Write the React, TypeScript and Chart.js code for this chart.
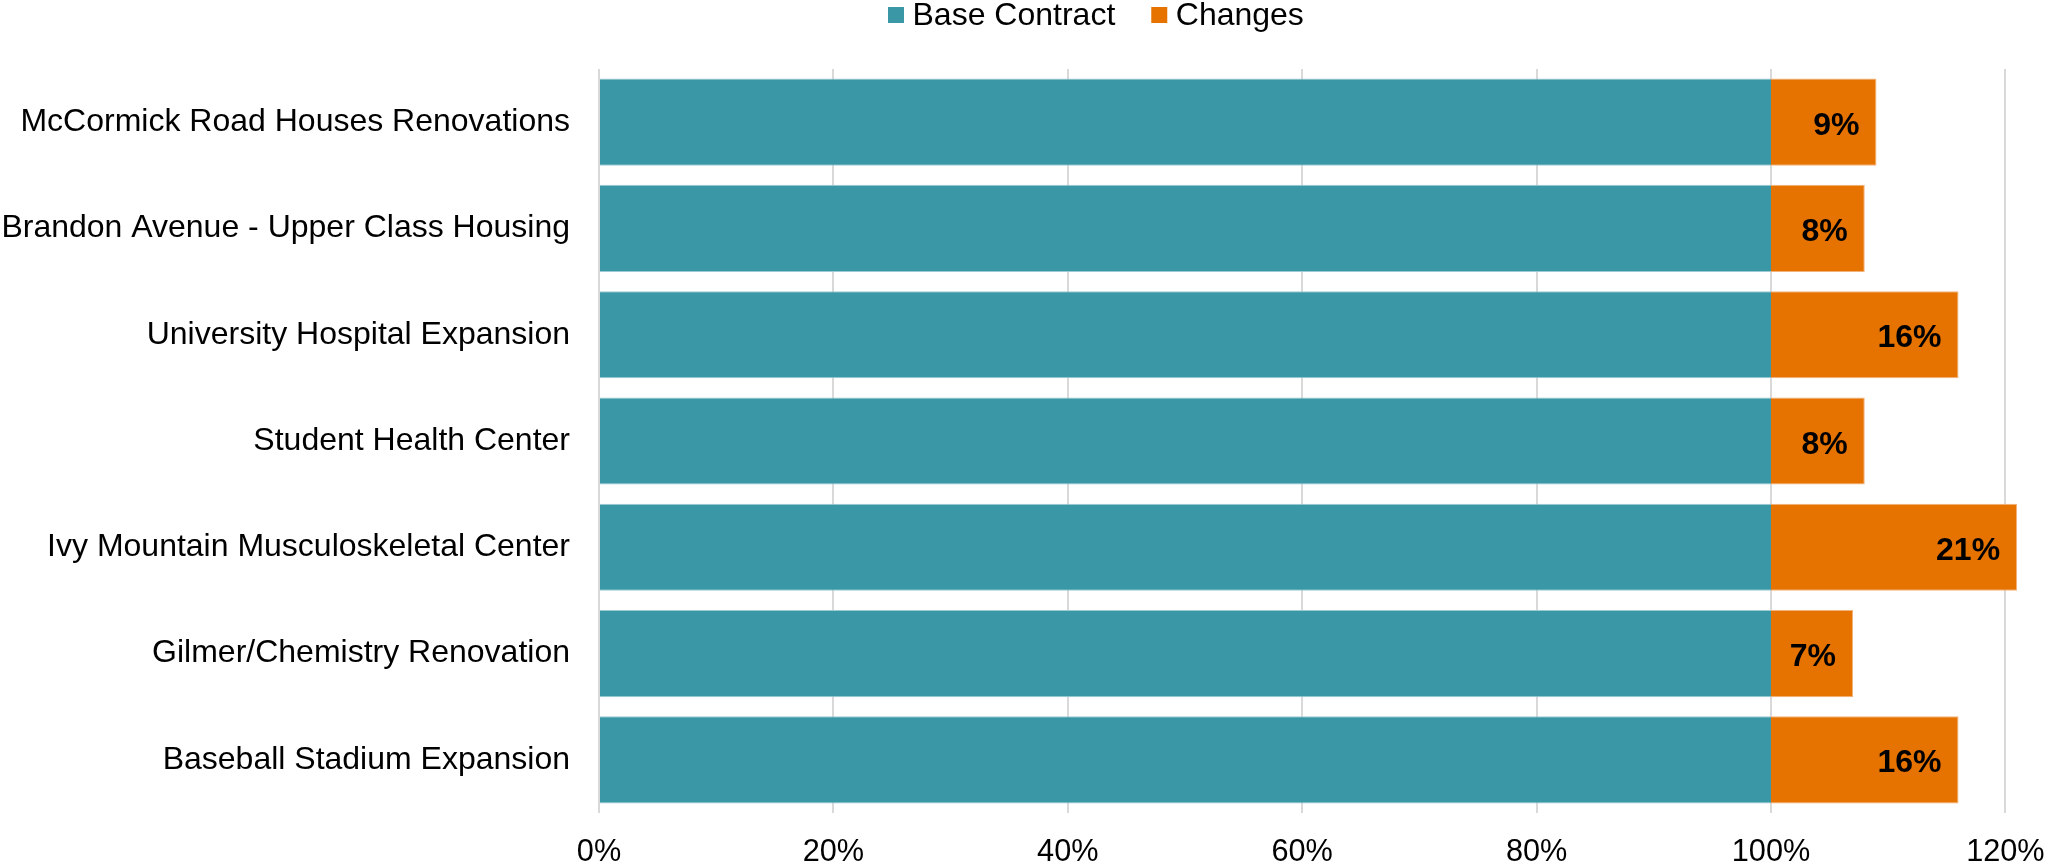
import React, { useEffect, useRef } from "react";
import { Chart, registerables } from "chart.js";

Chart.register(...registerables);

const categories = [
  "McCormick Road Houses Renovations",
  "Brandon Avenue - Upper Class Housing",
  "University Hospital Expansion",
  "Student Health Center",
  "Ivy Mountain Musculoskeletal Center",
  "Gilmer/Chemistry Renovation",
  "Baseball Stadium Expansion",
];
const baseContract = [100, 100, 100, 100, 100, 100, 100];
const changes = [9, 8, 16, 8, 21, 7, 16];
const xTicks = [0, 20, 40, 60, 80, 100, 120];
const seriesNames = ["Base Contract", "Changes"];

const TEAL = "#3a97a6";
const ORANGE = "#e67300";
const FONT = '"Liberation Sans", Arial, Helvetica, sans-serif';

const dataLabelPlugin = {
  id: "dataLabels",
  afterDatasetsDraw(chart: any) {
    const ctx = chart.ctx;
    const meta = chart.getDatasetMeta(1);
    ctx.save();
    ctx.font = `bold 32px ${FONT}`;
    ctx.fillStyle = "#000";
    ctx.textAlign = "right";
    ctx.textBaseline = "alphabetic";
    meta.data.forEach((bar: any, i: number) => {
      ctx.fillText(`${changes[i]}%`, bar.x - 17, bar.y + 12.5);
    });
    ctx.restore();
  },
};

const legendPlugin = {
  id: "customLegend",
  afterDraw(chart: any) {
    const ctx = chart.ctx;
    ctx.save();
    ctx.font = `32px ${FONT}`;
    ctx.textAlign = "left";
    ctx.textBaseline = "alphabetic";
    let x = 888;
    const colors = [TEAL, ORANGE];
    seriesNames.forEach((name, i) => {
      ctx.fillStyle = colors[i];
      ctx.fillRect(x, 7, 16, 16);
      ctx.fillStyle = "#000";
      ctx.fillText(name, x + 24.5, 25);
      x += 24.5 + ctx.measureText(name).width + 36;
    });
    ctx.restore();
  },
};

export default function App() {
  const ref = useRef<HTMLCanvasElement>(null);
  useEffect(() => {
    if (!ref.current) return;
    const chart = new Chart(ref.current, {
      type: "bar",
      data: {
        labels: categories,
        datasets: [
          {
            label: seriesNames[0],
            data: baseContract,
            backgroundColor: TEAL,
            borderColor: "#9ccbd3",
            borderWidth: { top: 1, bottom: 1, left: 0, right: 0 },
            borderSkipped: false,
            categoryPercentage: 1,
            barPercentage: 0.82,
            clip: false,
          },
          {
            label: seriesNames[1],
            data: changes,
            backgroundColor: ORANGE,
            borderColor: "#f2b27a",
            borderWidth: { top: 1, bottom: 1, left: 0, right: 1 },
            borderSkipped: false,
            categoryPercentage: 1,
            barPercentage: 0.82,
            clip: false,
          },
        ],
      },
      options: {
        indexAxis: "y",
        animation: false,
        responsive: true,
        maintainAspectRatio: false,
        layout: { padding: { top: 69, right: 43.6, left: 0, bottom: 0 } },
        plugins: {
          legend: { display: false },
          tooltip: { enabled: false },
        },
        scales: {
          x: {
            stacked: true,
            min: 0,
            max: 120,
            afterBuildTicks(scale: any) {
              scale.ticks = xTicks.map((v) => ({ value: v }));
            },
            afterFit(scale: any) {
              scale.height = 55;
              scale.paddingRight = 0;
              scale.paddingLeft = 0;
            },
            ticks: {
              callback: (v: any) => `${v}%`,
              color: "#000",
              font: { family: FONT, size: 30.7 },
              padding: 21,
              maxRotation: 0,
            },
            grid: { color: "#d9d9d9", lineWidth: 2, drawTicks: false },
            border: { display: false },
          },
          y: {
            stacked: true,
            afterFit(scale: any) {
              scale.width = 599;
              scale.paddingTop = 0;
              scale.paddingBottom = 0;
            },
            ticks: {
              color: "#000",
              font: { family: FONT, size: 32 },
              padding: 29,
            },
            grid: { display: false, drawTicks: false },
            border: { display: false },
          },
        },
      },
      plugins: [dataLabelPlugin, legendPlugin],
    });
    return () => chart.destroy();
  }, []);
  return (
    <div style={{ position: "fixed", left: 0, top: 0, width: 2049, height: 868, background: "#fff" }}>
      <canvas ref={ref} />
    </div>
  );
}
